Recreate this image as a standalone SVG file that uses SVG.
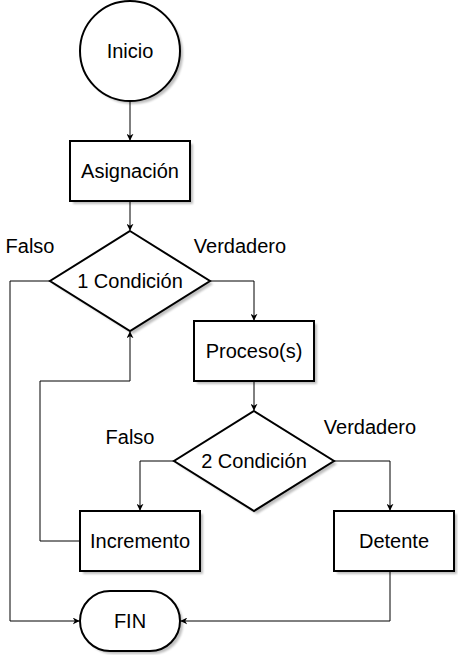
<svg xmlns="http://www.w3.org/2000/svg" width="458" height="655" viewBox="0 0 458 655">
<defs>
<style>
.s{fill:#fff;stroke:#000;stroke-width:2}
.sh{fill:#000;opacity:0.25}
.t{font-family:"Liberation Sans",Arial,sans-serif;font-size:20px;fill:#000;text-anchor:middle}
.c{fill:none;stroke:#000;stroke-width:1}
</style>
<filter id="b" x="-10%" y="-10%" width="130%" height="130%"><feGaussianBlur stdDeviation="1"/></filter>
<marker id="a" viewBox="0 0 10 10" refX="9" refY="5" markerWidth="7" markerHeight="7" markerUnits="userSpaceOnUse" orient="auto">
<path d="M0,0 L10,5 L0,10 L3,5 Z" fill="#000"/>
</marker>
</defs>
<rect width="458" height="655" fill="#fff"/>
<g id="connectors">
<path class="c" d="M130,101 V140" marker-end="url(#a)"/>
<path class="c" d="M130,201 V230" marker-end="url(#a)"/>
<path class="c" d="M210,281 H254 V320" marker-end="url(#a)"/>
<path class="c" d="M254,381 V410" marker-end="url(#a)"/>
<path class="c" d="M174,461 H140 V510" marker-end="url(#a)"/>
<path class="c" d="M334,461 H390 V510" marker-end="url(#a)"/>
<path class="c" d="M390,571 V621 H181" marker-end="url(#a)"/>
<path class="c" d="M50,281 H10 V621 H79" marker-end="url(#a)"/>
<path class="c" d="M80,541 H40 V381 H130 V332" marker-end="url(#a)"/>
</g>
<g id="labels">
<text class="t" x="30" y="253">Falso</text>
<text class="t" x="240" y="253">Verdadero</text>
<text class="t" x="130" y="444">Falso</text>
<text class="t" x="370" y="434">Verdadero</text>
</g>
<g id="inicio">
<circle class="sh" filter="url(#b)" cx="133" cy="54" r="50"/>
<circle class="s" cx="130" cy="51" r="50"/>
<text class="t" x="130" y="58">Inicio</text>
</g>
<g id="asignacion">
<rect class="sh" filter="url(#b)" x="73" y="144" width="120" height="60"/>
<rect class="s" x="70" y="141" width="120" height="60"/>
<text class="t" x="130" y="178">Asignación</text>
</g>
<g id="condicion1">
<path class="sh" filter="url(#b)" d="M133,234 L213,284 L133,334 L53,284 Z"/>
<path class="s" d="M130,231 L210,281 L130,331 L50,281 Z"/>
<text class="t" x="130" y="288">1 Condición</text>
</g>
<g id="proceso">
<rect class="sh" filter="url(#b)" x="197" y="324" width="120" height="60"/>
<rect class="s" x="194" y="321" width="120" height="60"/>
<text class="t" x="254" y="358">Proceso(s)</text>
</g>
<g id="condicion2">
<path class="sh" filter="url(#b)" d="M257,414 L337,464 L257,514 L177,464 Z"/>
<path class="s" d="M254,411 L334,461 L254,511 L174,461 Z"/>
<text class="t" x="254" y="468">2 Condición</text>
</g>
<g id="incremento">
<rect class="sh" filter="url(#b)" x="83" y="514" width="120" height="60"/>
<rect class="s" x="80" y="511" width="120" height="60"/>
<text class="t" x="140" y="548">Incremento</text>
</g>
<g id="detente">
<rect class="sh" filter="url(#b)" x="337" y="514" width="120" height="60"/>
<rect class="s" x="334" y="511" width="120" height="60"/>
<text class="t" x="394" y="548">Detente</text>
</g>
<g id="fin">
<rect class="sh" filter="url(#b)" x="83" y="594" width="100" height="60" rx="30"/>
<rect class="s" x="80" y="591" width="100" height="60" rx="30"/>
<text class="t" x="130" y="628">FIN</text>
</g>
</svg>
